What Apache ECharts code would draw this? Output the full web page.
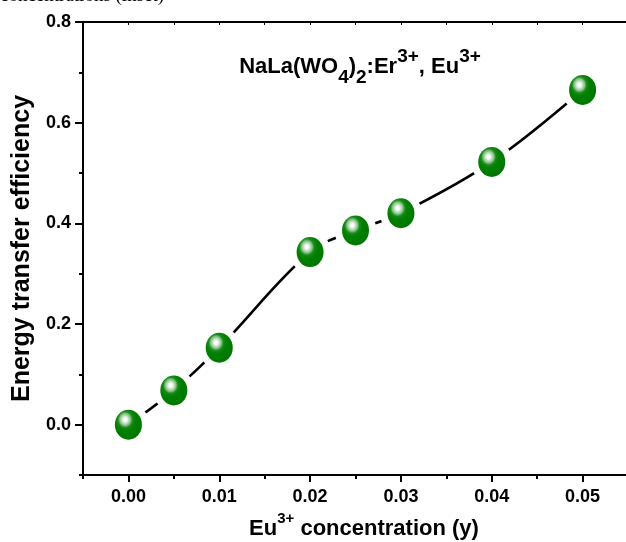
<!DOCTYPE html>
<html>
<head>
<meta charset="utf-8">
<script src="https://cdn.jsdelivr.net/npm/echarts@6/dist/echarts.min.js"></script>
<style>
html,body{margin:0;padding:0;background:#fff;}
#chart{width:626px;height:542px;}
</style>
</head>
<body>
<div id="chart"></div>
<script>
// ---- data ----
const concentrations = [0, 0.005, 0.01, 0.02, 0.025, 0.03, 0.04, 0.05];
const efficiency = [0.0, 0.068, 0.153, 0.343, 0.386, 0.420, 0.522, 0.665];
const xMajorTicks = [0, 0.01, 0.02, 0.03, 0.04, 0.05];
const xMinorTicks = [-0.005, 0.005, 0.015, 0.025, 0.035, 0.045, 0.055];
const yMajorTicks = [0, 0.2, 0.4, 0.6, 0.8];
const yMinorTicks = [-0.1, 0.1, 0.3, 0.5, 0.7];
const topTicks = [-0.005, 0, 0.005, 0.01, 0.015, 0.02, 0.025, 0.03, 0.035, 0.04, 0.045, 0.05, 0.055];

const FONT = '"Liberation Sans", Arial, sans-serif';
const points = concentrations.map((c, i) => [c, efficiency[i]]);

const chart = echarts.init(document.getElementById('chart'), null, {renderer: 'canvas'});

const axisLineStyle = {color: '#000', width: 2};

chart.setOption({
  animation: false,
  backgroundColor: '#fff',
  grid: {left: 83, right: -2, top: 22, bottom: 67, containLabel: false, outerBoundsMode: 'none'},
  xAxis: [
    {
      type: 'value', position: 'bottom', min: -0.005, max: 0.055,
      axisLine: {show: true, onZero: false, lineStyle: axisLineStyle},
      axisTick: {show: true, customValues: xMajorTicks, length: 7, lineStyle: {color: '#000', width: 2}},
      axisLabel: {show: true, customValues: xMajorTicks, margin: 13,
        formatter: v => v.toFixed(2), color: '#000', fontSize: 18, fontWeight: 'bold', fontFamily: FONT},
      splitLine: {show: false},
      name: '{m|Eu}{sup|3+}{m| concentration (y)}',
      nameLocation: 'middle', nameGap: 36,
      nameTextStyle: {
        padding: [0, 0, 0, 17],
        rich: {
          m: {fontSize: 22, fontWeight: 'bold', fontFamily: FONT, color: '#000', lineHeight: 36},
          sup: {fontSize: 15, fontWeight: 'bold', fontFamily: FONT, color: '#000', lineHeight: 10, verticalAlign: 'top'}
        }
      }
    },
    {
      type: 'value', position: 'bottom', min: -0.005, max: 0.055,
      axisLine: {show: false, onZero: false},
      axisTick: {show: true, customValues: xMinorTicks, length: 4, lineStyle: {color: '#000', width: 2}},
      axisLabel: {show: false},
      splitLine: {show: false}
    },
    {
      type: 'value', position: 'top', min: -0.005, max: 0.055,
      axisLine: {show: true, onZero: false, lineStyle: axisLineStyle},
      axisTick: {show: true, inside: true, customValues: topTicks, length: 3, lineStyle: {color: '#000', width: 1}},
      axisLabel: {show: false},
      splitLine: {show: false}
    }
  ],
  yAxis: [
    {
      type: 'value', position: 'left', min: -0.1, max: 0.8,
      axisLine: {show: true, onZero: false, lineStyle: axisLineStyle},
      axisTick: {show: true, customValues: yMajorTicks, length: 8, lineStyle: {color: '#000', width: 2}},
      axisLabel: {show: true, customValues: yMajorTicks, margin: 12,
        formatter: v => v.toFixed(1), color: '#000', fontSize: 18, fontWeight: 'bold', fontFamily: FONT},
      splitLine: {show: false},
      name: 'Energy transfer efficiency',
      nameLocation: 'middle', nameGap: 46,
      nameTextStyle: {fontSize: 25, fontWeight: 'bold', fontFamily: FONT, color: '#000'}
    },
    {
      type: 'value', position: 'left', min: -0.1, max: 0.8,
      axisLine: {show: false, onZero: false},
      axisTick: {show: true, customValues: yMinorTicks, length: 4, lineStyle: {color: '#000', width: 2}},
      axisLabel: {show: false},
      splitLine: {show: false}
    }
  ],
  graphic: [
    {
      type: 'text', x: 360, y: 47, z: 100,
      style: {
        text: '{m|NaLa(WO}{sub|4}{m|)}{sub|2}{m|:Er}{sup|3+}{m|, Eu}{sup|3+}',
        align: 'center', verticalAlign: 'top',
        rich: {
          m: {fontSize: 22, fontWeight: 'bold', fontFamily: FONT, fill: '#000', lineHeight: 40},
          sub: {fontSize: 19, fontWeight: 'bold', fontFamily: FONT, fill: '#000', lineHeight: 17, verticalAlign: 'bottom'},
          sup: {fontSize: 19, fontWeight: 'bold', fontFamily: FONT, fill: '#000', lineHeight: 22, verticalAlign: 'top'}
        }
      }
    },
    {
      type: 'text', x: 0, y: 6, z: 100,
      style: {
        text: 'concentrations (inset)',
        font: '19px "Liberation Serif", "Times New Roman", serif',
        fill: '#000', align: 'left', verticalAlign: 'bottom'
      }
    }
  ],
  series: [
    {
      type: 'line', xAxisIndex: 0, yAxisIndex: 0,
      data: points, smooth: 0.35, showSymbol: false, symbol: 'none',
      lineStyle: {color: '#000', width: 2.6}, z: 2, silent: true
    },
    {
      type: 'scatter', xAxisIndex: 0, yAxisIndex: 0,
      data: points, symbol: 'circle', symbolSize: 42,
      itemStyle: {color: '#fff', opacity: 1}, z: 3, silent: true
    },
    {
      type: 'scatter', xAxisIndex: 0, yAxisIndex: 0,
      data: points, symbol: 'circle', symbolSize: [27, 30],
      itemStyle: {
        opacity: 1,
        color: {
          type: 'radial', x: 0.38, y: 0.33, r: 0.75,
          colorStops: [
            {offset: 0, color: '#ffffff'},
            {offset: 0.07, color: '#ffffff'},
            {offset: 0.16, color: '#c8e3c8'},
            {offset: 0.27, color: '#7fbf7f'},
            {offset: 0.36, color: '#1a8c1a'},
            {offset: 0.5, color: '#008000'},
            {offset: 1, color: '#007400'}
          ]
        }
      },
      z: 4, silent: true
    }
  ]
});
</script>
</body>
</html>
